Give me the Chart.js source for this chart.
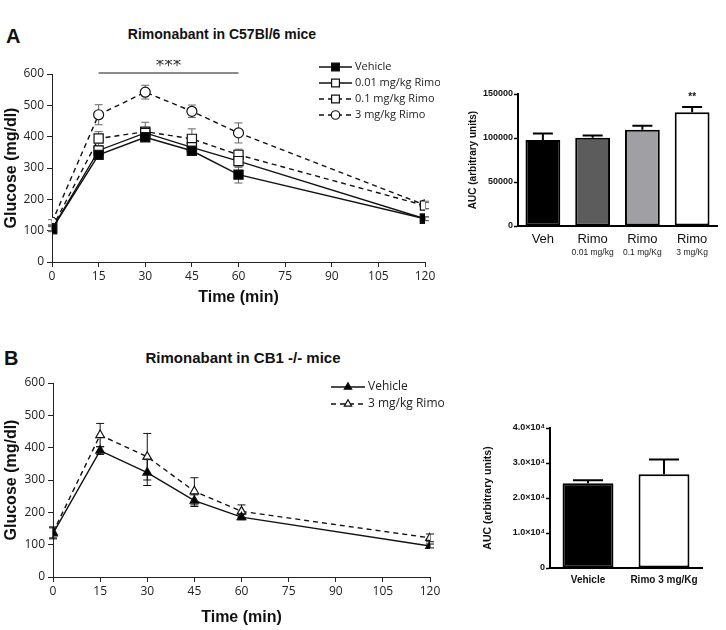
<!DOCTYPE html>
<html>
<head>
<meta charset="utf-8">
<script src="https://cdn.jsdelivr.net/npm/chart.js@4.4.0/dist/chart.umd.min.js"></script>
<style>
  body { margin: 0; background: #fff; }
  #wrap { position: relative; width: 726px; height: 630px; overflow: hidden; font-family: "Liberation Sans", Arial, sans-serif; color: #111; }
  .box { position: absolute; }
  .letter { position: absolute; font-weight: bold; font-size: 20px; line-height: 20px; }
  .ttl { position: absolute; font-weight: bold; text-align: center; line-height: 16px; }
</style>
</head>
<body>
<div id="wrap">
  <div class="letter" style="left:6px; top:26px;">A</div>
  <div class="ttl" style="left:72px; width:300px; top:26px; font-size:14px;">Rimonabant in C57Bl/6 mice</div>
  <div class="letter" style="left:4px; top:348px;">B</div>
  <div class="ttl" style="left:93px; width:300px; top:350px; font-size:15px;">Rimonabant in CB1 -/- mice</div>

  <div class="box" style="left:0; top:60px; width:440px; height:252px;"><canvas id="lineA"></canvas></div>
  <div class="box" style="left:460px; top:70px; width:266px; height:200px;"><canvas id="barA"></canvas></div>
  <div class="box" style="left:0; top:370px; width:445px; height:260px;"><canvas id="lineB"></canvas></div>
  <div class="box" style="left:470px; top:400px; width:256px; height:200px;"><canvas id="barB"></canvas></div>
</div>
<script>
// valeurs
const times = [0, 15, 30, 45, 60, 120];

const vehA = [105, 342, 398, 355, 279, 138];
const vehAErr = [8, 12, 10, 14, 27, 6];
const rimo001A = [105, 356, 412, 366, 322, 138];
const rimo001AErr = [8, 14, 14, 12, 20, 6];
const rimo01A = [108, 394, 416, 393, 342, 180];
const rimo01AErr = [8, 22, 30, 32, 18, 10];
const rimo3A = [127, 470, 542, 481, 412, 182];
const rimo3AErr = [8, 32, 22, 20, 32, 12];

const vehB = [135, 391, 323, 236, 185, 96];
const vehBErr = [17, 12, 40, 18, 8, 6];
const rimo3B = [138, 439, 372, 265, 203, 121];
const rimo3BErr = [17, 36, 72, 42, 20, 12];

const aucACats = ['Veh', 'Rimo', 'Rimo', 'Rimo'];
const aucASub = ['', '0.01 mg/kg', '0.1 mg/Kg', '3 mg/Kg'];
const aucA = [97700, 100400, 109500, 129200];
const aucAErr = [7300, 2400, 4500, 6100];
const aucAStars = ['', '', '', '**'];

const aucBCats = ['Vehicle', 'Rimo 3 mg/Kg'];
const aucB = [24200, 26800];
const aucBErr = [900, 4200];

function pts(vals) {
    return vals.map((v, i) => ({ x: times[i], y: v }));
}

function drawMarker(ctx, style, r, fill, x, y) {
    ctx.save();
    ctx.beginPath();
    if (style === 'rect') {
        const s = r * Math.SQRT1_2;
        ctx.rect(x - s, y - s, 2 * s, 2 * s);
    } else if (style === 'triangle') {
        const h = r * 1.5;
        ctx.moveTo(x, y - r);
        ctx.lineTo(x + h / Math.sqrt(3), y - r + h);
        ctx.lineTo(x - h / Math.sqrt(3), y - r + h);
        ctx.closePath();
    } else {
        ctx.arc(x, y, r, 0, Math.PI * 2);
    }
    ctx.fillStyle = fill;
    ctx.fill();
    ctx.lineWidth = 1.2;
    ctx.strokeStyle = '#111';
    ctx.setLineDash([]);
    ctx.stroke();
    ctx.restore();
}

// barres d'erreur
const errorBars = {
    id: 'errorBars',
    beforeDatasetsDraw(chart, args, opts) { if (!opts.after) draw(chart, opts); },
    afterDatasetsDraw(chart, args, opts) { if (opts.after) draw(chart, opts); }
};
function draw(chart, opts) {
    if (!opts.color) return;
    const ctx = chart.ctx, ys = chart.scales.y;
    ctx.save();
    ctx.strokeStyle = opts.color;
    ctx.lineWidth = opts.width;
    chart.data.datasets.forEach((ds, di) => {
        if (!ds.errors) return;
        chart.getDatasetMeta(di).data.forEach((el, i) => {
            const v = typeof ds.data[i] === 'object' ? ds.data[i].y : ds.data[i];
            const top = ys.getPixelForValue(v + ds.errors[i]);
            const bot = opts.upOnly ? el.y : ys.getPixelForValue(v - ds.errors[i]);
            ctx.beginPath();
            ctx.moveTo(el.x, bot); ctx.lineTo(el.x, top);
            ctx.moveTo(el.x - opts.cap, top); ctx.lineTo(el.x + opts.cap, top);
            if (!opts.upOnly) { ctx.moveTo(el.x - opts.cap, bot); ctx.lineTo(el.x + opts.cap, bot); }
            ctx.stroke();
            if (ds.stars && ds.stars[i]) {
                ctx.fillStyle = '#111';
                ctx.font = 'bold 10px "Liberation Sans"';
                ctx.textAlign = 'center';
                ctx.fillText(ds.stars[i], el.x, top - 7);
            }
        });
    });
    ctx.restore();
}

// légende avec ligne + symbole
const keyLegend = {
    id: 'keyLegend',
    afterDraw(chart, args, opts) {
        if (!opts.x) return;
        const ctx = chart.ctx;
        chart.data.datasets.forEach((ds, i) => {
            const y = opts.y + i * opts.dy;
            ctx.save();
            ctx.strokeStyle = '#111';
            ctx.lineWidth = 1.3;
            ctx.setLineDash(ds.borderDash || []);
            ctx.beginPath();
            ctx.moveTo(opts.x, y); ctx.lineTo(opts.x + opts.len, y);
            ctx.stroke();
            ctx.restore();
            drawMarker(ctx, ds.pointStyle, ds.pointRadius * 0.85, ds.pointBackgroundColor, opts.x + opts.len / 2, y);
            ctx.save();
            ctx.fillStyle = '#222';
            ctx.font = opts.font;
            ctx.textBaseline = 'middle';
            ctx.fillText(ds.label, opts.x + opts.len + 3, y);
            ctx.restore();
        });
    }
};

// trait de significativité et sous-libellés
const extras = {
    id: 'extras',
    afterDraw(chart, args, opts) {
        const ctx = chart.ctx;
        if (opts.sig) {
            const xs = chart.scales.x, ys = chart.scales.y;
            const y = ys.getPixelForValue(opts.sig.at);
            ctx.save();
            ctx.strokeStyle = '#666';
            ctx.lineWidth = 1.5;
            ctx.beginPath();
            ctx.moveTo(xs.getPixelForValue(opts.sig.from), y);
            ctx.lineTo(xs.getPixelForValue(opts.sig.to), y);
            ctx.stroke();
            ctx.fillStyle = '#333';
            ctx.font = '17px "DejaVu Sans"';
            ctx.textAlign = 'center';
            ctx.fillText(opts.sig.text, xs.getPixelForValue((opts.sig.from + opts.sig.to) / 2), y - 2);
            ctx.restore();
        }
        if (opts.sub) {
            const xs = chart.scales.x;
            ctx.save();
            ctx.fillStyle = '#222';
            ctx.font = '8.5px "Liberation Sans"';
            ctx.textAlign = 'center';
            ctx.textBaseline = 'middle';
            opts.sub.forEach((t, i) => ctx.fillText(t, xs.getPixelForTick(i), xs.top + opts.subDy));
            ctx.restore();
        }
    }
};

Chart.register(errorBars, keyLegend, extras);

function lineDs(label, vals, errs, style, fill, dashed, r) {
    return {
        label: label,
        data: pts(vals),
        errors: errs,
        borderColor: '#111',
        borderWidth: 1.4,
        borderDash: dashed ? [5, 4] : [],
        pointStyle: style,
        pointRadius: r,
        pointBackgroundColor: fill,
        pointBorderColor: '#111',
        pointBorderWidth: 1.2,
        tension: 0
    };
}

function lineOptions(o) {
    return {
        responsive: true,
        maintainAspectRatio: false,
        animation: false,
        layout: { padding: { top: o.top, right: o.right, left: 0, bottom: 0 } },
        plugins: {
            legend: { display: false },
            tooltip: { enabled: false },
            errorBars: { color: o.errColor, width: 1, cap: 4 },
            keyLegend: o.legend,
            extras: { sig: o.sig }
        },
        scales: {
            x: {
                type: 'linear', min: 0, max: 120,
                ticks: { stepSize: 15, color: '#222', font: { family: 'Open Sans', size: 12 }, padding: 2 },
                grid: { drawOnChartArea: false, tickLength: 5, tickColor: '#222' },
                border: { color: '#222', width: 1 },
                title: { display: true, text: 'Time (min)', color: '#111',
                         font: { family: 'Liberation Sans', size: 16, weight: 'bold' }, padding: { top: 0, bottom: o.titleBottom } },
                afterFit: s => { s.height = o.xh; }
            },
            y: {
                min: 0, max: 600,
                ticks: { stepSize: 100, color: '#222', font: { family: 'Open Sans', size: 12 }, padding: 3 },
                grid: { drawOnChartArea: false, tickLength: 5, tickColor: '#222' },
                border: { color: '#222', width: 1 },
                title: { display: true, text: 'Glucose (mg/dl)', color: '#111',
                         font: { family: 'Liberation Sans', size: 16, weight: 'bold' }, padding: { top: 2, bottom: 0 } },
                afterFit: s => { s.width = o.yw; }
            }
        }
    };
}

new Chart(document.getElementById('lineA'), {
    type: 'line',
    data: {
        datasets: [
            lineDs('Vehicle', vehA, vehAErr, 'rect', '#000', false, 6.5),
            lineDs('0.01 mg/kg Rimo', rimo001A, rimo001AErr, 'rect', '#fff', false, 6.5),
            lineDs('0.1 mg/kg Rimo', rimo01A, rimo01AErr, 'rect', '#fff', true, 6.5),
            lineDs('3 mg/kg Rimo', rimo3A, rimo3AErr, 'circle', '#fff', true, 5)
        ]
    },
    options: lineOptions({
        top: 14, right: 15, xh: 50, yw: 52, titleBottom: 5, errColor: '#666',
        legend: { x: 319, y: 7, dy: 16, len: 33, font: '11px "Open Sans"' },
        sig: { from: 15, to: 60, at: 603, text: '***' }
    })
});

new Chart(document.getElementById('lineB'), {
    type: 'line',
    data: {
        datasets: [
            lineDs('Vehicle', vehB, vehBErr, 'triangle', '#000', false, 5),
            lineDs('3 mg/kg Rimo', rimo3B, rimo3BErr, 'triangle', '#fff', true, 5)
        ]
    },
    options: lineOptions({
        top: 13, right: 15, xh: 53, yw: 53, titleBottom: 3, errColor: '#111',
        legend: { x: 331, y: 17, dy: 17, len: 34, font: '12px "Open Sans"' },
        sig: null
    })
});

function barOptions(o) {
    return {
        responsive: true,
        maintainAspectRatio: false,
        animation: false,
        layout: { padding: { top: o.top, right: o.right, left: 0, bottom: 0 } },
        plugins: {
            legend: { display: false },
            tooltip: { enabled: false },
            errorBars: { color: '#000', width: 2, cap: o.cap, upOnly: true, after: true },
            extras: { sub: o.sub, subDy: 27 }
        },
        scales: {
            x: {
                ticks: { color: '#111', font: o.xFont, padding: o.xPad },
                grid: { display: false, drawTicks: false },
                border: { color: '#000', width: 2 },
                afterFit: s => { s.height = o.xh; }
            },
            y: {
                min: 0, max: o.max,
                ticks: { stepSize: o.step, color: '#111', font: { family: 'Liberation Sans', size: o.tickSize, weight: 'bold' },
                         padding: 1, callback: o.fmt },
                grid: { drawOnChartArea: false, tickLength: 4, tickColor: '#000', tickWidth: 1.5 },
                border: { color: '#000', width: 2 },
                title: { display: true, text: 'AUC (arbitrary units)', color: '#111',
                         font: { family: 'Liberation Sans', size: o.titleSize, weight: 'bold' }, padding: { top: o.titlePad, bottom: 0 } },
                afterFit: s => { s.width = o.yw; }
            }
        }
    };
}

new Chart(document.getElementById('barA'), {
    type: 'bar',
    data: {
        labels: aucACats,
        datasets: [{
            data: aucA,
            errors: aucAErr,
            stars: aucAStars,
            backgroundColor: ['#000000', '#5c5c5c', '#a0a0a4', '#ffffff'],
            borderColor: '#000',
            borderWidth: 2,
            borderSkipped: false,
            barPercentage: 0.7,
            categoryPercentage: 1
        }]
    },
    options: barOptions({
        top: 24, right: 9, xh: 44, yw: 58, max: 150000, step: 50000, cap: 10,
        xFont: { family: 'Liberation Sans', size: 13 }, xPad: 6, tickSize: 9,
        titleSize: 10, titlePad: 7, sub: aucASub,
        fmt: v => String(v)
    })
});

new Chart(document.getElementById('barB'), {
    type: 'bar',
    data: {
        labels: aucBCats,
        datasets: [{
            data: aucB,
            errors: aucBErr,
            backgroundColor: ['#000000', '#ffffff'],
            borderColor: '#000',
            borderWidth: 2,
            borderSkipped: false,
            barPercentage: 0.67,
            categoryPercentage: 1
        }]
    },
    options: barOptions({
        top: 28, right: 24, xh: 32, yw: 80, max: 40000, step: 10000, cap: 15,
        xFont: { family: 'Liberation Sans', size: 10, weight: 'bold' }, xPad: 6, tickSize: 9,
        titleSize: 10.5, titlePad: 12, sub: null,
        fmt: v => v === 0 ? '0' : (v / 10000).toFixed(1) + '×10⁴'
    })
});
</script>
</body>
</html>
